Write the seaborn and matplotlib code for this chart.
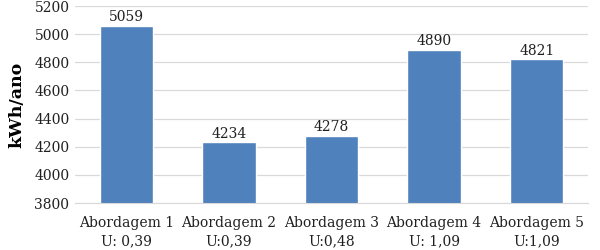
import seaborn as sns
import matplotlib.pyplot as plt
import pandas as pd

# Data
categories = ['Abordagem 1\nU: 0,39', 'Abordagem 2\nU:0,39', 'Abordagem 3\nU:0,48',
              'Abordagem 4\nU: 1,09', 'Abordagem 5\nU:1,09']
values = [5059, 4234, 4278, 4890, 4821]

df = pd.DataFrame({'Categoria': categories, 'Valor': values})

sns.set_style('white')
plt.rcParams['font.family'] = ['DejaVu Serif']

fig = plt.figure(figsize=(6, 2.5), dpi=100)
ax = fig.add_axes([0.125, 0.188, 0.855, 0.788])

sns.barplot(data=df, x='Categoria', y='Valor', color='#4F81BD', width=0.52,
            saturation=1, ax=ax, zorder=2)

ax.set_ylim(3800, 5200)
ax.set_yticks(range(3800, 5201, 200))
ax.yaxis.grid(True, color='#D9D9D9', linewidth=0.9, zorder=0)
ax.set_axisbelow(True)

for i, v in enumerate(values):
    ax.text(i, v + 10, str(v), ha='center', va='bottom', fontsize=10, color='#202020')

ax.set_xlabel('')
ax.set_ylabel('kWh/ano', fontsize=12.5, fontweight='bold', color='black', labelpad=6)
ax.tick_params(axis='y', length=0, labelsize=10, colors='#202020', pad=4)
ax.tick_params(axis='x', length=0, labelsize=10, colors='#202020', pad=9)
for lbl in ax.get_xticklabels():
    lbl.set_linespacing(1.45)

for s in ['top', 'right', 'left']:
    ax.spines[s].set_visible(False)
ax.spines['bottom'].set_color('#D9D9D9')

plt.savefig('out.png', dpi=100)
